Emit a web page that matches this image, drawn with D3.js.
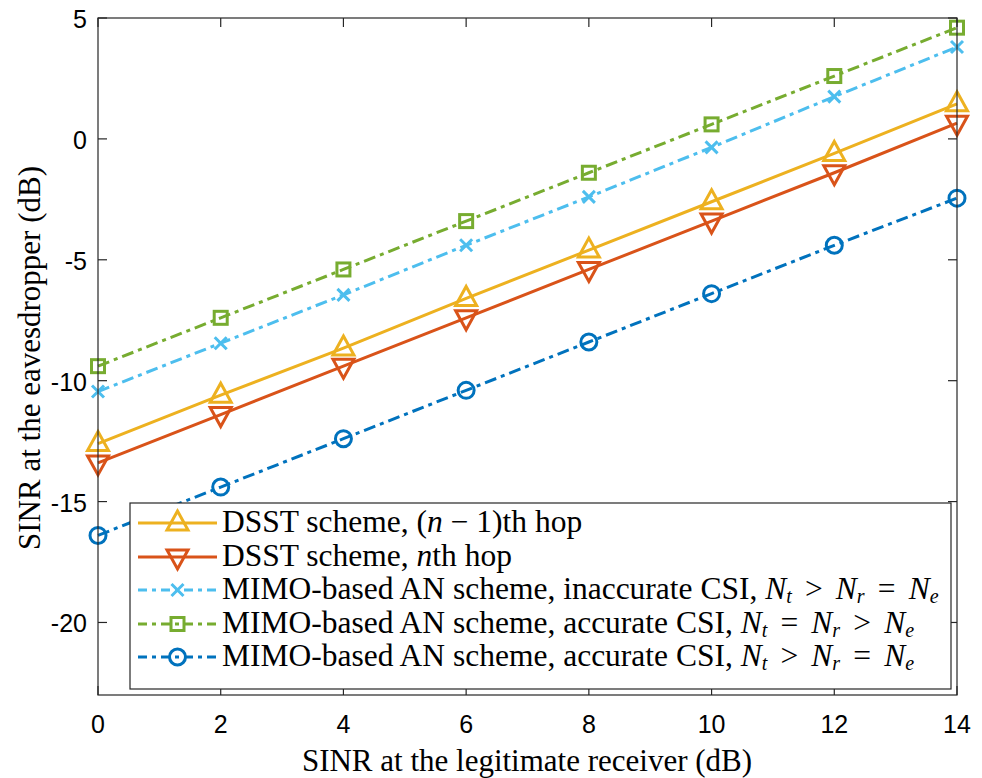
<!DOCTYPE html>
<html lang="en">
<head>
    <meta charset="UTF-8">
    <title>SINR eavesdropper chart</title>
    <script src="https://cdn.jsdelivr.net/npm/d3@7"></script>
    <style>
        * { margin: 0; padding: 0; }
        body { background: #fff; }
        .serif { font-family: Times, "Liberation Serif", serif; }
        .sans { font-family: "Liberation Sans", Arial, Helvetica, sans-serif; }
    </style>
</head>
<body>
    <script>
        // data
        const xVals = [0, 2, 4, 6, 8, 10, 12, 14];
        const dsstPrev = [-12.6, -10.6, -8.65, -6.6, -4.6, -2.6, -0.6, 1.45];
        const dsstNth = [-13.4, -11.4, -9.4, -7.4, -5.4, -3.4, -1.4, 0.65];
        const mimoInacc = [-10.45, -8.45, -6.45, -4.4, -2.4, -0.35, 1.75, 3.8];
        const mimoAccEq = [-9.4, -7.4, -5.4, -3.4, -1.4, 0.6, 2.6, 4.6];
        const mimoAcc = [-16.4, -14.4, -12.4, -10.4, -8.4, -6.4, -4.4, -2.45];
        const xTicks = [0, 2, 4, 6, 8, 10, 12, 14];
        const yTicks = [5, 0, -5, -10, -15, -20];

        const W = 982, H = 778;
        const svg = d3.select("body").append("svg").attr("width", W).attr("height", H);

        const x = d3.scaleLinear().domain([0, 14]).range([98, 957]);
        const y = d3.scaleLinear().domain([-23, 5]).range([695, 18]);

        const series = [
            { vals: dsstPrev, color: "#EDB120", marker: "tri", dash: null },
            { vals: dsstNth, color: "#D95319", marker: "tridown", dash: null },
            { vals: mimoInacc, color: "#4DBEEE", marker: "x", dash: "12,5,4,5" },
            { vals: mimoAccEq, color: "#77AC30", marker: "sq", dash: "12,5,4,5" },
            { vals: mimoAcc, color: "#0072BD", marker: "circ", dash: "12,5,4,5" }
        ];

        const drawMarker = (g, type, cx, cy, color) => {
            const s = g.append("g").attr("transform", `translate(${cx},${cy})`)
                .attr("fill", "none").attr("stroke", color).attr("stroke-width", 3);
            if (type === "tri") s.append("path").attr("d", "M0,-12L10.5,7L-10.5,7Z");
            if (type === "tridown") s.append("path").attr("d", "M0,12L10.5,-7L-10.5,-7Z");
            if (type === "x") s.append("path").attr("d", "M-6,-6L6,6M-6,6L6,-6");
            if (type === "sq") s.append("rect").attr("x", -6.5).attr("y", -6.5).attr("width", 13).attr("height", 13);
            if (type === "circ") s.append("circle").attr("r", 8);
        };

        const line = d3.line().x((d, i) => x(xVals[i])).y(d => y(d));

        // lines, blue first so the others sit on top
        const order = [4, 0, 1, 2, 3];
        order.forEach(k => {
            const s = series[k];
            const g = svg.append("g");
            g.append("path").datum(s.vals).attr("d", line)
                .attr("fill", "none").attr("stroke", s.color).attr("stroke-width", 3)
                .attr("stroke-dasharray", s.dash);
            s.vals.forEach((v, i) => drawMarker(g, s.marker, x(xVals[i]), y(v), s.color));
        });

        // axes box
        const axisColor = "#262626";
        svg.append("rect").attr("x", 98).attr("y", 18).attr("width", 859).attr("height", 677)
            .attr("fill", "none").attr("stroke", axisColor).attr("stroke-width", 1.2);

        const tickLen = 9;
        xTicks.forEach(t => {
            svg.append("line").attr("x1", x(t)).attr("x2", x(t)).attr("y1", 695).attr("y2", 695 - tickLen)
                .attr("stroke", axisColor).attr("stroke-width", 1.2);
            svg.append("line").attr("x1", x(t)).attr("x2", x(t)).attr("y1", 18).attr("y2", 18 + tickLen)
                .attr("stroke", axisColor).attr("stroke-width", 1.2);
            svg.append("text").attr("class", "sans").attr("x", x(t)).attr("y", 733).attr("text-anchor", "middle")
                .attr("font-size", 25).attr("fill", "#000").text(t);
        });
        yTicks.forEach(t => {
            svg.append("line").attr("x1", 98).attr("x2", 98 + tickLen).attr("y1", y(t)).attr("y2", y(t))
                .attr("stroke", axisColor).attr("stroke-width", 1.2);
            svg.append("line").attr("x1", 957).attr("x2", 957 - tickLen).attr("y1", y(t)).attr("y2", y(t))
                .attr("stroke", axisColor).attr("stroke-width", 1.2);
            svg.append("text").attr("class", "sans").attr("x", 87).attr("y", y(t) + 10).attr("text-anchor", "end")
                .attr("font-size", 25).attr("fill", "#000").text(t);
        });

        // axis labels
        svg.append("text").attr("class", "serif").attr("x", 527).attr("y", 771).attr("text-anchor", "middle")
            .attr("font-size", 31).attr("fill", "#000")
            .text("SINR at the legitimate receiver (dB)");
        svg.append("text").attr("class", "serif").attr("transform", "translate(40,358) rotate(-90)")
            .attr("text-anchor", "middle").attr("font-size", 31).attr("fill", "#000")
            .text("SINR at the eavesdropper (dB)");

        // legend
        const leg = svg.append("g");
        leg.append("rect").attr("x", 130).attr("y", 503).attr("width", 821).attr("height", 186)
            .attr("fill", "#fff").attr("stroke", axisColor).attr("stroke-width", 1.2);

        const gt = " \u2006>\u2006 ", eq = " \u2006=\u2006 ";
        const labels = [
            [["DSST scheme, (", ""], ["n", "i"], [" \u2212 1)th hop", ""]],
            [["DSST scheme, ", ""], ["n", "i"], ["th hop", ""]],
            [["MIMO-based AN scheme, inaccurate CSI, ", ""], ["N", "i"], ["t", "si"], [gt, ""], ["N", "i"], ["r", "si"], [eq, ""], ["N", "i"], ["e", "si"]],
            [["MIMO-based AN scheme, accurate CSI, ", ""], ["N", "i"], ["t", "si"], [eq, ""], ["N", "i"], ["r", "si"], [gt, ""], ["N", "i"], ["e", "si"]],
            [["MIMO-based AN scheme, accurate CSI, ", ""], ["N", "i"], ["t", "si"], [gt, ""], ["N", "i"], ["r", "si"], [eq, ""], ["N", "i"], ["e", "si"]]
        ];
        const rowY = [523, 557, 590, 624, 657];
        series.forEach((s, k) => {
            const ry = rowY[k];
            leg.append("line").attr("x1", 138).attr("x2", 217).attr("y1", ry).attr("y2", ry)
                .attr("stroke", s.color).attr("stroke-width", 3)
                .attr("stroke-dasharray", s.dash ? "9,5,4,5" : null);
            drawMarker(leg, s.marker, 177.5, ry, s.color);
            const t = leg.append("text").attr("class", "serif").attr("x", 222).attr("y", ry + 9)
                .attr("font-size", 31.5).attr("fill", "#000").style("white-space", "pre");
            let sub = false;
            labels[k].forEach(([str, st]) => {
                const sp = t.append("tspan").text(str);
                if (st === "i") sp.attr("font-style", "italic");
                if (st === "si") {
                    sp.attr("font-style", "italic").attr("font-size", 20).attr("dy", 4);
                    sub = true;
                } else if (sub) {
                    sp.attr("dy", -4);
                    sub = false;
                }
            });
        });
    </script>
</body>
</html>
